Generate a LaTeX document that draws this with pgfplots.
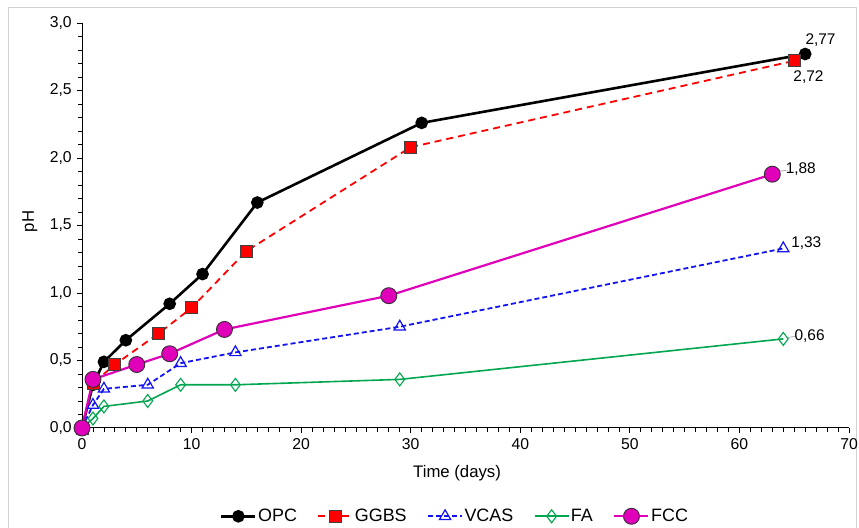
\documentclass[border=0pt]{standalone}
\usepackage{fontspec}
\setmainfont{Liberation Sans}
\usepackage{pgfplots}
\pgfplotsset{compat=1.18}
\definecolor{cgreen}{RGB}{0,166,80}
\definecolor{cmag}{RGB}{225,0,185}
\definecolor{cblue}{RGB}{20,20,240}
\begin{document}
\fontsize{15.5}{18}\selectfont
\begin{tikzpicture}[x=1bp,y=1bp]
\useasboundingbox (0,0) rectangle (859,528);
\draw[gray!35, line width=1bp] (8,-5) -- (8,520) -- (856,520) -- (856,-5);
\begin{axis}[
  at={(82bp,100bp)}, anchor=south west, scale only axis,
  width=767bp, height=405bp,
  xmin=0, xmax=70, ymin=0, ymax=3,
  axis x line*=bottom, axis y line*=left,
  axis line style={black, line width=1bp},
  xtick={0,10,...,70}, ytick={0,0.5,...,3},
  minor x tick num=9, minor y tick num=4,
  tick align=outside, major tick length=5bp, minor tick length=4bp,
  tick style={black, line width=0.8bp},
  /pgf/number format/assume math mode=true,
  yticklabel style={/pgf/number format/.cd, use comma, fixed, fixed zerofill, precision=1},
  tick label style={font=\fontsize{15.8}{18}\selectfont},
  xlabel={Time (days)}, ylabel={pH},
  label style={font=\fontsize{16.8}{19}\selectfont},
  xlabel style={at={(axis description cs:0.489,-0.112)}, anchor=center},
  ylabel style={at={(axis description cs:-0.068,0.51)}, anchor=center},
  legend style={at={(axis description cs:0.486,-0.218)}, anchor=center, draw=none,
    font=\fontsize{18}{21}\selectfont, legend columns=5,
    nodes={inner sep=1.5bp},
    /tikz/every even column/.append style={column sep=19bp}},
  legend image code/.code={\draw[mark repeat=2,mark phase=2,#1] plot coordinates {(0cm,0cm) (0.6cm,0cm) (1.2cm,0cm)};},
  clip=false,
]
\addplot[black, line width=2.6bp, mark=*, mark size=5bp, mark options={solid, fill=black}]
  coordinates {(0,0) (1,0.32) (2,0.49) (4,0.65) (8,0.92) (11,1.14) (16,1.67) (31,2.26) (66,2.77)};
\addlegendentry{OPC}
\addplot[red, line width=1.8bp, dash pattern=on 7bp off 5bp, mark=square*, mark size=6bp,
  mark options={solid, fill=red, draw=black!75, line width=0.8bp}]
  coordinates {(0,0) (1,0.33) (3,0.47) (7,0.70) (10,0.89) (15,1.31) (30,2.08) (65,2.72)};
\addlegendentry{GGBS}
\addplot[cblue, line width=1.8bp, dash pattern=on 5bp off 3bp, mark=triangle, mark size=6.5bp,
  mark options={solid, fill=white, line width=1.2bp}]
  coordinates {(0,0) (1,0.17) (2,0.29) (6,0.32) (9,0.48) (14,0.56) (29,0.75) (64,1.33)};
\addlegendentry{VCAS}
\addplot[cgreen, line width=1.6bp, mark=diamond, mark size=6.5bp,
  mark options={solid, fill=white, line width=1.1bp}]
  coordinates {(0,0) (1,0.07) (2,0.16) (6,0.20) (9,0.32) (14,0.32) (29,0.36) (64,0.66)};
\addlegendentry{FA}
\addplot[cmag, line width=2.2bp, mark=*, mark size=8bp,
  mark options={solid, fill=cmag, draw=black!80, line width=0.9bp}]
  coordinates {(0,0) (1,0.36) (5,0.47) (8,0.55) (13,0.73) (28,0.98) (63,1.88)};
\addlegendentry{FCC}
\node[font=\fontsize{15.5}{18}\selectfont] at (axis cs:67.4,2.87) {2,77};
\node[font=\fontsize{15.5}{18}\selectfont] at (axis cs:66.3,2.60) {2,72};
\draw[gray!60, line width=0.8bp] (axis cs:63.4,1.90) -- (axis cs:64.4,1.91);
\node[font=\fontsize{15.5}{18}\selectfont] at (axis cs:65.6,1.92) {1,88};
\node[font=\fontsize{15.5}{18}\selectfont] at (axis cs:66.1,1.37) {1,33};
\draw[gray!60, line width=0.8bp] (axis cs:64.4,0.67) -- (axis cs:65.2,0.68);
\node[font=\fontsize{15.5}{18}\selectfont] at (axis cs:66.4,0.68) {0,66};
\end{axis}
\end{tikzpicture}
\end{document}
